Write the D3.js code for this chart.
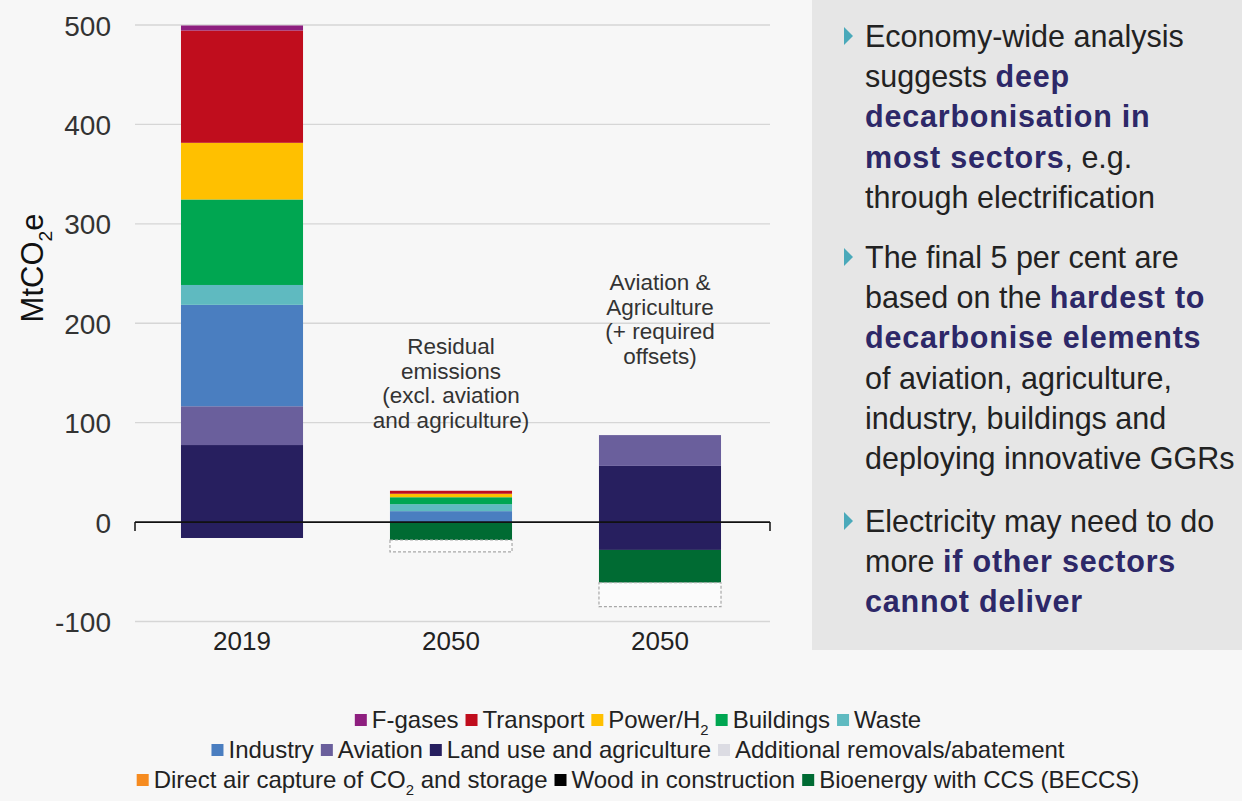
<!DOCTYPE html>
<html><head><meta charset="utf-8">
<script src="https://cdn.jsdelivr.net/npm/d3@7"></script>
<style>
body{margin:0;background:#f7f7f7;}
svg{display:block;font-family:"Liberation Sans",Arial,Helvetica,sans-serif;}
</style>
</head><body>
<svg id="c" width="1242" height="801"></svg>
<script>
// ---------- data ----------
const categories = ["2019", "2050", "2050"];
const fGases      = [5, 0, 0];
const transport   = [113, 3, 0];
const power       = [57, 3.5, 0];
const buildings   = [86, 7, 0];
const waste       = [20, 7, 0];
const industry    = [102, 11, 0];
const aviation    = [39, 0, 31];
const landUse     = [77.5, 0, 56.5];
const landUseSink = [-16, 0, -28];
const wood        = [0, 0, 0];
const beccs       = [0, -18, -33];
const dac         = [0, 0, 0];
const additional  = [0, -12, -24];
const yTicks = [-100, 0, 100, 200, 300, 400, 500];

const annotations = [
  {cat: 1, lines: ["Residual", "emissions", "(excl. aviation", "and agriculture)"]},
  {cat: 2, lines: ["Aviation &", "Agriculture", "(+ required", "offsets)"]}
];

const legendRows = [
  ["fGases", "transport", "power", "buildings", "waste"],
  ["industry", "aviation", "landUse", "additional"],
  ["dac", "wood", "beccs"]
];

const panelBullets = [
  [[["Economy-wide analysis", 0]], [["suggests ", 0], ["deep", 1]], [["decarbonisation in", 1]], [["most sectors", 1], [", e.g.", 0]], [["through electrification", 0]]],
  [[["The final 5 per cent are", 0]], [["based on the ", 0], ["hardest to", 1]], [["decarbonise elements", 1]], [["of aviation, agriculture,", 0]], [["industry, buildings and", 0]], [["deploying innovative GGRs", 0]]],
  [[["Electricity may need to do", 0]], [["more ", 0], ["if other sectors", 1]], [["cannot deliver", 1]]]
];

// ---------- series styling ----------
const series = [
  {key: "landUse",     label: "Land use and agriculture", color: "#271f5f", values: landUse},
  {key: "landUseSink", label: null,                        color: "#271f5f", values: landUseSink},
  {key: "aviation",    label: "Aviation",                  color: "#6a5f9c", values: aviation},
  {key: "industry",    label: "Industry",                  color: "#4a7ec0", values: industry},
  {key: "waste",       label: "Waste",                     color: "#5fbac0", values: waste},
  {key: "buildings",   label: "Buildings",                 color: "#00a651", values: buildings},
  {key: "power",       label: "Power/H₂",                  color: "#ffc000", values: power},
  {key: "transport",   label: "Transport",                 color: "#c00d1d", values: transport},
  {key: "fGases",      label: "F-gases",                   color: "#8e1f7f", values: fGases},
  {key: "wood",        label: "Wood in construction",      color: "#000000", values: wood},
  {key: "beccs",       label: "Bioenergy with CCS (BECCS)", color: "#006b33", values: beccs},
  {key: "dac",         label: "Direct air capture of CO₂ and storage", color: "#f68b1f", values: dac},
  {key: "additional",  label: "Additional removals/abatement", color: "#dcdce3", values: additional}
];
const byKey = Object.fromEntries(series.map(s => [s.key, s]));

const svg = d3.select("#c");

// grey panel
svg.append("rect").attr("x", 812).attr("y", 0).attr("width", 430).attr("height", 650).attr("fill", "#e6e6e6");

// scales
const x = d3.scaleBand().domain(d3.range(categories.length)).range([135, 767]).paddingInner(0.416).paddingOuter(0.22);
const y = d3.scaleLinear().domain([-100, 500]).range([621.5, 25]);

// gridlines
svg.append("g").selectAll("line").data(yTicks.filter(d => d !== 0)).join("line")
  .attr("x1", 135).attr("x2", 770).attr("y1", d => y(d)).attr("y2", d => y(d))
  .attr("stroke", "#d6d6d6").attr("stroke-width", 1.3);

// y axis labels
const yAxis = d3.axisLeft(y).tickValues(yTicks).tickSize(0).tickPadding(0).tickFormat(d => String(d));
const gy = svg.append("g").attr("transform", "translate(111,0)").call(yAxis);
gy.select(".domain").remove();
gy.selectAll("text").attr("font-size", 28).attr("fill", "#333").attr("font-family", "inherit").attr("dy", "0.36em");

// stacked bars
const rows = categories.map((c, i) => {
  const r = {idx: i};
  series.forEach(s => r[s.key] = s.values[i]);
  return r;
});
const stack = d3.stack().keys(series.map(s => s.key)).offset(d3.stackOffsetDiverging);
const stacked = stack(rows);
const barG = svg.append("g");
stacked.forEach(layer => {
  const s = byKey[layer.key];
  const isAdd = s.key === "additional";
  barG.append("g").selectAll("rect").data(layer.filter(d => Math.abs(d[1] - d[0]) > 0)).join("rect")
    .attr("x", d => x(d.data.idx))
    .attr("width", x.bandwidth())
    .attr("y", d => y(Math.max(d[0], d[1])))
    .attr("height", d => Math.abs(y(d[0]) - y(d[1])))
    .attr("fill", isAdd ? "#fbfbfb" : s.color)
    .attr("stroke", isAdd ? "#a8a8a8" : "none")
    .attr("stroke-width", isAdd ? 1.2 : 0)
    .attr("stroke-dasharray", isAdd ? "3,2" : null);
});

// zero axis line
svg.append("line").attr("x1", 135).attr("x2", 770).attr("y1", y(0)).attr("y2", y(0)).attr("stroke", "#111").attr("stroke-width", 1.8);
[135, 770].forEach(px => svg.append("line").attr("x1", px).attr("x2", px).attr("y1", y(0)).attr("y2", y(0) + 9).attr("stroke", "#111").attr("stroke-width", 1.5));

// x labels
const xAxis = d3.axisBottom(x).tickSize(0).tickPadding(0).tickFormat(i => categories[i]);
const gx = svg.append("g").attr("transform", "translate(0,650)").call(xAxis);
gx.select(".domain").remove();
gx.selectAll("text").attr("font-size", 26).attr("fill", "#222").attr("font-family", "inherit").attr("dy", 0);

// annotations
annotations.forEach((a, k) => {
  const cx = x(a.cat) + x.bandwidth() / 2;
  const base = k === 0 ? 354 : 290;
  const t = svg.append("text").attr("text-anchor", "middle").attr("font-size", 22.5).attr("fill", "#333");
  a.lines.forEach((ln, j) => t.append("tspan").attr("x", cx).attr("y", base + j * 24.6).text(ln));
});

// rich text with subscript 2 (absolute px shifts)
function rich(sel, str, size) {
  const parts = str.split("₂");
  const sh = size * 0.28;
  parts.forEach((p, i) => {
    const tp = sel.append("tspan").text(p);
    if (i > 0) tp.attr("dy", -sh);
    if (i < parts.length - 1) sel.append("tspan").text("2").attr("font-size", size * 0.62).attr("dy", sh);
  });
}

// y title
const yt = svg.append("text").attr("transform", "translate(43,268) rotate(-90)").attr("text-anchor", "middle")
  .attr("font-size", 31).attr("fill", "#111");
rich(yt, "MtCO₂e", 31);

// legend
const legFont = 24;
const legRowsY = [720, 750, 780];
legendRows.forEach((row, ri) => {
  const g = svg.append("g");
  let cur = 0;
  row.forEach(k => {
    const s = byKey[k];
    g.append("rect").attr("x", cur).attr("y", legRowsY[ri] - 6).attr("width", 12).attr("height", 12).attr("fill", s.color);
    const t = g.append("text").attr("x", cur + 17).attr("y", legRowsY[ri] + 8).attr("font-size", legFont).attr("fill", "#222");
    rich(t, s.label, legFont);
    cur += 17 + t.node().getComputedTextLength() + 7;
  });
  const w = cur - 7;
  g.attr("transform", `translate(${638 - w / 2},0)`);
});

// panel text
const panelFont = 30.5;
const lineH = 40.2;
const bulletStarts = [47, 268, 532];
panelBullets.forEach((lines, bi) => {
  const by = bulletStarts[bi];
  svg.append("path").attr("d", `M844,${by - 20} L853,${by - 11} L844,${by - 2} Z`).attr("fill", "#4aa9ba");
  lines.forEach((segs, li) => {
    const t = svg.append("text").attr("x", 865).attr("y", by + li * lineH).attr("font-size", panelFont).attr("fill", "#222");
    segs.forEach(([txt, b]) => {
      const sp = t.append("tspan").text(txt);
      if (b) sp.attr("font-weight", "bold").attr("fill", "#2d2868").attr("letter-spacing", 0.8);
    });
  });
});
</script>
</body></html>
